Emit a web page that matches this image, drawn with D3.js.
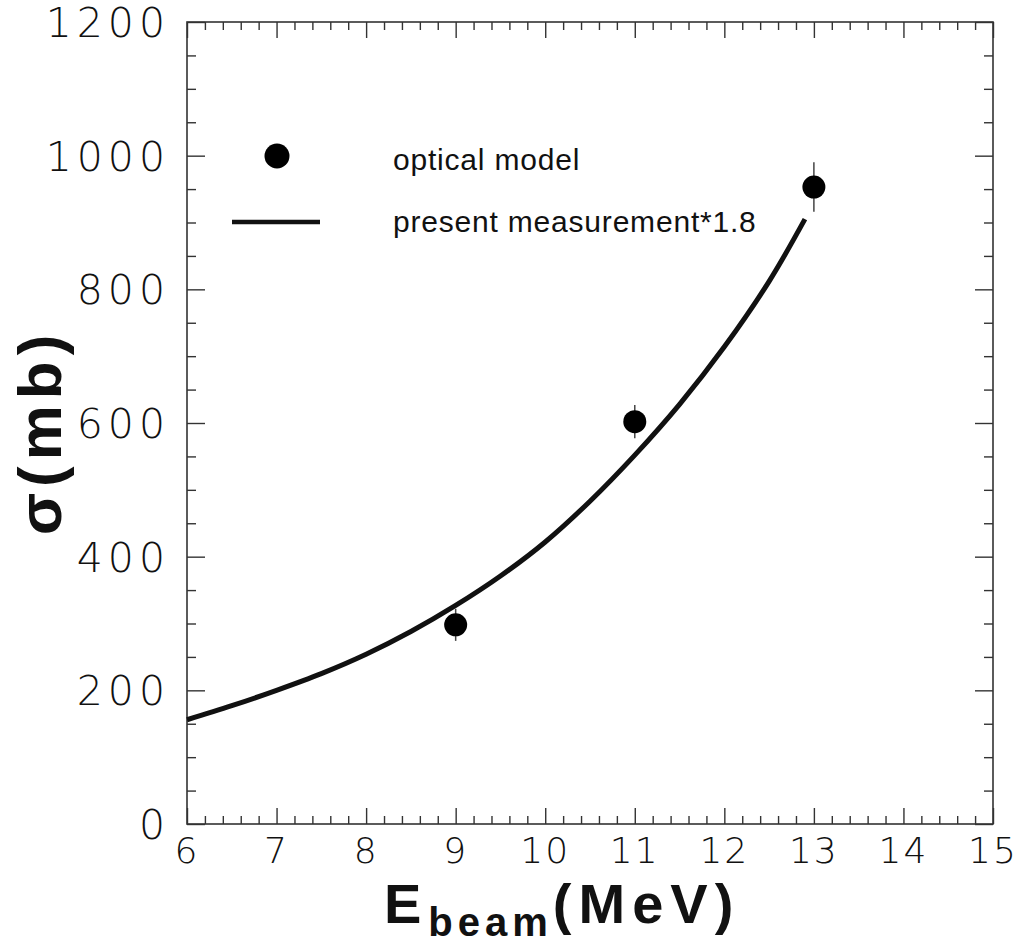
<!DOCTYPE html>
<html>
<head>
<meta charset="utf-8">
<script src="https://cdn.jsdelivr.net/npm/d3@7"></script>
<style>
  body { margin: 0; background: #fff; }
  .tick-label { font-family: "DejaVu Sans", sans-serif; font-weight: 200; fill: #111; }
  .title { font-family: "Liberation Sans", Arial, sans-serif; font-weight: bold; fill: #111; }
  .legend { font-family: "Liberation Sans", Arial, sans-serif; fill: #111; }
</style>
</head>
<body>
<script>
// optical model points
var modelE = [9, 11, 13];
var modelSigma = [298, 602, 953];
var modelErr = [24, 25, 37];

var curveE = [6.0, 6.5, 7.0, 7.5, 8.0, 8.5, 9.0, 9.5, 10.0, 10.5, 11.0, 11.5, 12.0, 12.5, 12.9];
var curveSigma = [156, 177, 200, 225, 254, 288, 327, 371, 422, 483, 552, 628, 714, 812, 905];

var xTicks = [6, 7, 8, 9, 10, 11, 12, 13, 14, 15];
var yTicks = [0, 200, 400, 600, 800, 1000, 1200];

(function() {
  var W = 1019, H = 946;
  var margin = {top: 22, right: 26, bottom: 122, left: 187};
  var width = W - margin.left - margin.right;
  var height = H - margin.top - margin.bottom;

  var svg = d3.select('body').append('svg')
    .attr('width', W)
    .attr('height', H);

  var g = svg.append('g')
    .attr('transform', 'translate(' + margin.left + ',' + margin.top + ')');

  var x = d3.scaleLinear().domain([6, 15]).range([0, width]);
  var y = d3.scaleLinear().domain([0, 1200]).range([height, 0]);

  // minor tick values
  var xMinor = d3.range(6, 15.001, 0.2).filter(function(v) { return Math.abs(v - Math.round(v)) > 0.01; });
  var yMinor = d3.range(0, 1201, 50).filter(function(v) { return v % 200 != 0; });

  var stroke = '#333';

  function styleAxis(sel) {
    sel.select('.domain').remove();
    sel.selectAll('.tick line').attr('stroke', stroke).attr('stroke-width', 1.4);
    sel.selectAll('.tick text').remove();
  }

  // bottom & top
  g.append('g').attr('transform', 'translate(0,' + height + ')')
    .call(d3.axisBottom(x).tickValues(xTicks).tickSize(-16)).call(styleAxis);
  g.append('g').attr('transform', 'translate(0,' + height + ')')
    .call(d3.axisBottom(x).tickValues(xMinor).tickSize(-8)).call(styleAxis);
  g.append('g')
    .call(d3.axisTop(x).tickValues(xTicks).tickSize(-16)).call(styleAxis);
  g.append('g')
    .call(d3.axisTop(x).tickValues(xMinor).tickSize(-8)).call(styleAxis);
  // left & right
  g.append('g')
    .call(d3.axisLeft(y).tickValues(yTicks).tickSize(-18)).call(styleAxis);
  g.append('g')
    .call(d3.axisLeft(y).tickValues(yMinor).tickSize(-9)).call(styleAxis);
  g.append('g').attr('transform', 'translate(' + width + ',0)')
    .call(d3.axisRight(y).tickValues(yTicks).tickSize(-18)).call(styleAxis);
  g.append('g').attr('transform', 'translate(' + width + ',0)')
    .call(d3.axisRight(y).tickValues(yMinor).tickSize(-9)).call(styleAxis);

  // frame
  g.append('rect')
    .attr('width', width).attr('height', height)
    .attr('fill', 'none').attr('stroke', stroke).attr('stroke-width', 1.6);

  // tick labels
  g.selectAll('.xlab').data(xTicks).enter().append('text')
    .attr('class', 'tick-label')
    .attr('x', function(d) { return x(d); })
    .attr('y', height + 39)
    .attr('text-anchor', 'middle')
    .style('font-size', '36px')
    .style('letter-spacing', '2px')
    .text(function(d) { return d; });

  // y labels: letter-spacing adds a trailing gap, so shift right by it
  g.selectAll('.ylab').data(yTicks).enter().append('text')
    .attr('class', 'tick-label')
    .attr('x', -22 + 5)
    .attr('y', function(d) { return y(d) + 15; })
    .attr('text-anchor', 'end')
    .style('font-size', '41px')
    .style('letter-spacing', '5px')
    .text(function(d) { return d; });

  // curve
  var line = d3.line()
    .x(function(d) { return x(d[0]); })
    .y(function(d) { return y(d[1]); })
    .curve(d3.curveCatmullRom);

  g.append('path')
    .datum(d3.zip(curveE, curveSigma))
    .attr('d', line)
    .attr('fill', 'none')
    .attr('stroke', '#111')
    .attr('stroke-width', 5);

  // model points with error bars
  var pts = d3.zip(modelE, modelSigma, modelErr);
  g.selectAll('.err').data(pts).enter().append('line')
    .attr('x1', function(d) { return x(d[0]); })
    .attr('x2', function(d) { return x(d[0]); })
    .attr('y1', function(d) { return y(d[1] - d[2]); })
    .attr('y2', function(d) { return y(d[1] + d[2]); })
    .attr('stroke', '#444')
    .attr('stroke-width', 1.5);

  g.selectAll('.dot').data(pts).enter().append('circle')
    .attr('cx', function(d) { return x(d[0]); })
    .attr('cy', function(d) { return y(d[1]); })
    .attr('r', 11.5)
    .attr('fill', '#000');

  // legend
  svg.append('circle').attr('cx', 277).attr('cy', 156).attr('r', 12.5).attr('fill', '#000');
  svg.append('text').attr('class', 'legend')
    .attr('x', 393).attr('y', 170).style('font-size', '30px').style('letter-spacing', '0.8px')
    .text('optical model');
  svg.append('line')
    .attr('x1', 232).attr('x2', 320).attr('y1', 222).attr('y2', 222)
    .attr('stroke', '#111').attr('stroke-width', 4.5);
  svg.append('text').attr('class', 'legend')
    .attr('x', 393).attr('y', 232).style('font-size', '30px').style('letter-spacing', '0.8px')
    .text('present measurement*1.8');

  // axis titles
  svg.append('text').attr('class', 'title')
    .attr('transform', 'translate(61,432) rotate(-90)')
    .attr('text-anchor', 'middle')
    .style('font-size', '62px')
    .style('letter-spacing', '6px')
    .text('σ(mb)');

  var xt = svg.append('text').attr('class', 'title')
    .attr('x', 384).attr('y', 923)
    .style('font-size', '56px')
    .style('letter-spacing', '7px');
  xt.append('tspan').text('E');
  xt.append('tspan').attr('dy', 13).style('font-size', '40px').style('letter-spacing', '5px').text('beam');
  xt.append('tspan').attr('dy', -13).style('letter-spacing', '7px').text('(MeV)');
})();
</script>
</body>
</html>
